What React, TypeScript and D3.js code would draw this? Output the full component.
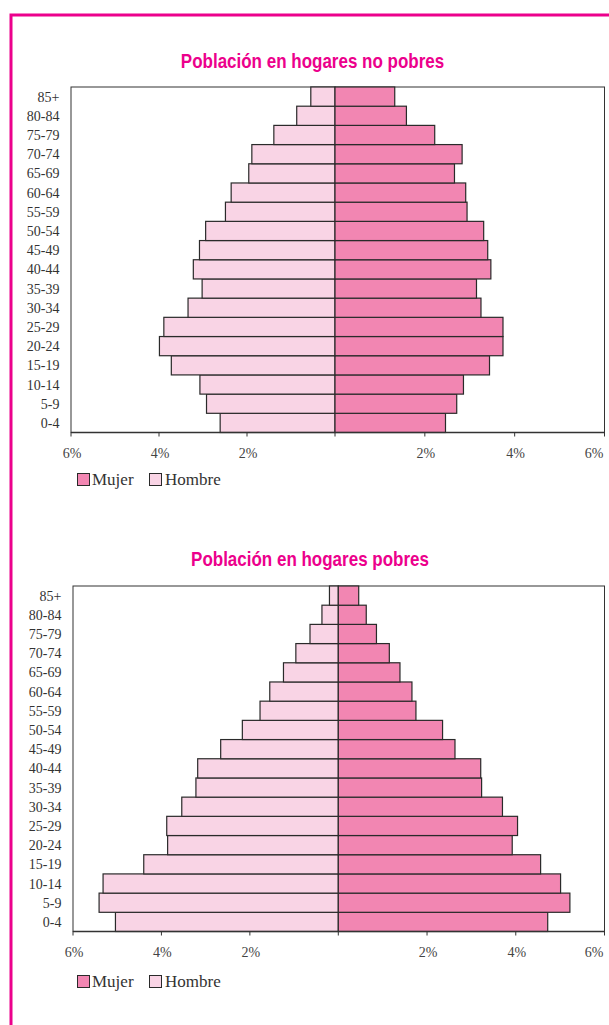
import React from "react";
import * as d3 from "d3";

const ageGroups = ["0-4","5-9","10-14","15-19","20-24","25-29","30-34","35-39","40-44","45-49","50-54","55-59","60-64","65-69","70-74","75-79","80-84","85+"];

const noPobresHombre = [2.61, 2.92, 3.07, 3.72, 3.99, 3.89, 3.34, 3.02, 3.22, 3.08, 2.94, 2.49, 2.36, 1.96, 1.89, 1.39, 0.87, 0.55];
const noPobresMujer = [2.46, 2.71, 2.86, 3.44, 3.74, 3.74, 3.25, 3.15, 3.47, 3.40, 3.31, 2.94, 2.91, 2.66, 2.83, 2.22, 1.59, 1.33];
const pobresHombre = [5.04, 5.41, 5.32, 4.40, 3.86, 3.88, 3.54, 3.22, 3.18, 2.66, 2.17, 1.77, 1.55, 1.24, 0.96, 0.64, 0.37, 0.20];
const pobresMujer = [4.72, 5.22, 5.01, 4.56, 3.92, 4.04, 3.70, 3.23, 3.21, 2.63, 2.35, 1.75, 1.66, 1.39, 1.15, 0.86, 0.63, 0.46];

const tickValues = [-6, -4, -2, 0, 2, 4, 6];
const titles = ["Población en hogares no pobres", "Población en hogares pobres"];
const legendLabels = ["Mujer", "Hombre"];

const PINK = "#EC008C";
const MUJER = "#F286B2";
const HOMBRE = "#F9D4E5";
const STROKE = "#2a2a2a";
const SERIF = "'Liberation Serif', 'Times New Roman', serif";
const TITLE_FONT = "'Liberation Sans', Arial, sans-serif";

type PyrProps = {
  title: string; titleY: number; titleX: number;
  top: number; bottom: number; left: number; zero: number; right: number;
  hombre: number[]; mujer: number[]; legendY: number; labelRight: number;
};

function Pyramid(p: PyrProps) {
  const x = d3.scaleLinear().domain([-6, 0, 6]).range([p.left, p.zero, p.right]);
  const y = d3.scaleBand<string>().domain([...ageGroups].reverse()).range([p.top, p.bottom]).padding(0);
  const bw = y.bandwidth();
  return (
    <g>
      <text transform={`translate(${p.titleX},${p.titleY}) scale(0.85,1)`} textAnchor="middle" fill={PINK} fontFamily={TITLE_FONT} fontWeight="bold" fontSize={20}>{p.title}</text>
      <rect x={p.left} y={p.top} width={p.right - p.left} height={p.bottom - p.top} fill="white" stroke="#333" strokeWidth={1} />
      {ageGroups.map((a, i) => (
        <g key={a}>
          <rect x={x(-p.hombre[i])} y={y(a)!} width={x(0) - x(-p.hombre[i])} height={bw} fill={HOMBRE} stroke={STROKE} strokeWidth={1.2} />
          <rect x={x(0)} y={y(a)!} width={x(p.mujer[i]) - x(0)} height={bw} fill={MUJER} stroke={STROKE} strokeWidth={1.2} />
          <text x={p.labelRight} y={y(a)! + bw / 2 + 5} textAnchor="end" fontFamily={SERIF} fontSize={14} fill="#333">{a}</text>
        </g>
      ))}
      <line x1={p.left} x2={p.right} y1={p.bottom} y2={p.bottom} stroke="#333" strokeWidth={1.5} />
      {tickValues.map((t) => (
        <g key={t}>
          <line x1={x(t)} x2={x(t)} y1={p.bottom} y2={p.bottom + 4} stroke="#333" strokeWidth={1} />
          {t !== 0 && (
            <text x={t === 6 ? p.right - 1 : x(t) + 1} y={p.bottom + 25} textAnchor={t === 6 ? "end" : "middle"} fontFamily={SERIF} fontSize={14} fill="#444">{Math.abs(t) + "%"}</text>
          )}
        </g>
      ))}
      <g>
        <rect x={77.5} y={p.legendY - 11.5} width={12} height={12} fill={MUJER} stroke={STROKE} strokeWidth={1} />
        <text x={92} y={p.legendY} fontFamily={SERIF} fontSize={17} fill="#333">{legendLabels[0]}</text>
        <rect x={149.5} y={p.legendY - 11.5} width={12} height={12} fill={HOMBRE} stroke={STROKE} strokeWidth={1} />
        <text x={165} y={p.legendY} fontFamily={SERIF} fontSize={17} fill="#333">{legendLabels[1]}</text>
      </g>
    </g>
  );
}

export default function App() {
  return (
    <svg width={609} height={1025} style={{ position: "absolute", left: 0, top: 0, display: "block" }}>
      <rect x={0} y={0} width={609} height={1025} fill="white" />
      <rect x={11} y={15} width={700} height={1100} fill="none" stroke={PINK} strokeWidth={3} />
      <Pyramid title={titles[0]} titleX={312.5} titleY={68} top={87} bottom={432.5} left={71} zero={335} right={604.5}
        hombre={noPobresHombre} mujer={noPobresMujer} legendY={485} labelRight={59.5} />
      <Pyramid title={titles[1]} titleX={310} titleY={566} top={586} bottom={931.5} left={73} zero={338.3} right={604.5}
        hombre={pobresHombre} mujer={pobresMujer} legendY={987} labelRight={61.5} />
    </svg>
  );
}
